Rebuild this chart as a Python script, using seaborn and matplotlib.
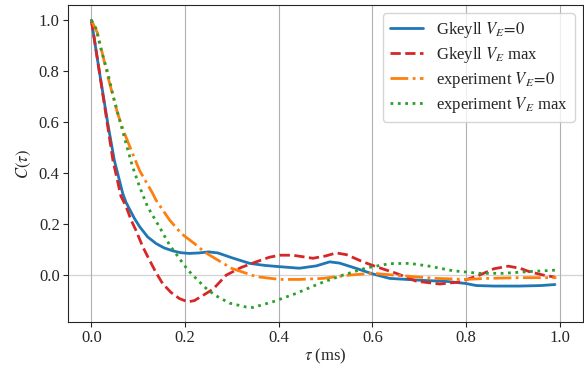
import numpy as np
import pandas as pd
import matplotlib
matplotlib.use("Agg")
import matplotlib.pyplot as plt
import seaborn as sns

# --- data ---
t_gk0 = [0.0, 0.016, 0.035, 0.049, 0.067, 0.074, 0.092, 0.103, 0.12, 0.138, 0.155, 0.174,
         0.19, 0.209, 0.23, 0.25, 0.27, 0.3, 0.338, 0.37, 0.402, 0.444, 0.48, 0.509, 0.53,
         0.566, 0.6, 0.637, 0.7, 0.76, 0.8, 0.822, 0.86, 0.915, 0.96, 0.99]
c_gk0 = [1.0, 0.81, 0.595, 0.45, 0.32, 0.285, 0.222, 0.19, 0.15, 0.124, 0.107, 0.095,
         0.088, 0.085, 0.087, 0.091, 0.087, 0.068, 0.046, 0.038, 0.033, 0.027, 0.036, 0.052, 0.047,
         0.026, 0.005, -0.013, -0.02, -0.025, -0.033, -0.041, -0.043, -0.043, -0.041, -0.037]

t_gkm = [0.0, 0.016, 0.031, 0.046, 0.063, 0.074, 0.085, 0.095, 0.11, 0.124, 0.138, 0.152,
         0.17, 0.188, 0.206, 0.22, 0.238, 0.26, 0.288, 0.32, 0.352, 0.38, 0.402, 0.43, 0.473,
         0.5, 0.523, 0.545, 0.58, 0.608, 0.651, 0.694, 0.744, 0.786, 0.829, 0.86, 0.89, 0.915,
         0.936, 0.965, 0.99]
c_gkm = [1.0, 0.81, 0.63, 0.45, 0.31, 0.27, 0.215, 0.176, 0.11, 0.059, 0.01, -0.033,
         -0.068, -0.092, -0.105, -0.1, -0.08, -0.055, 0.0, 0.03, 0.052, 0.07, 0.078, 0.078, 0.066,
         0.075, 0.087, 0.08, 0.052, 0.033, 0.007, -0.024, -0.035, -0.027, 0.0, 0.025, 0.035, 0.027,
         0.013, 0.0, -0.008]

t_ex0 = [0.0, 0.013, 0.035, 0.056, 0.07, 0.085, 0.103, 0.131, 0.138, 0.167, 0.192, 0.224,
         0.241, 0.26, 0.3, 0.352, 0.402, 0.444, 0.494, 0.551, 0.6, 0.665, 0.737, 0.8, 0.843,
         0.915, 0.993]
c_ex0 = [1.0, 0.95, 0.78, 0.634, 0.56, 0.49, 0.41, 0.32, 0.294, 0.216, 0.163, 0.118,
         0.091, 0.07, 0.026, -0.006, -0.017, -0.017, -0.013, 0.0, 0.007, -0.003, -0.013, -0.017,
         -0.013, -0.01, -0.01]

t_exm = [0.0, 0.01, 0.02, 0.034, 0.047, 0.06, 0.074, 0.088, 0.103, 0.12, 0.145, 0.167,
         0.188, 0.206, 0.227, 0.249, 0.27, 0.295, 0.33, 0.345, 0.387, 0.437, 0.487, 0.537,
         0.587, 0.637, 0.68, 0.722, 0.772, 0.829, 0.879, 0.929, 0.996]
c_exm = [1.0, 0.967, 0.89, 0.80, 0.70, 0.61, 0.516, 0.425, 0.346, 0.268, 0.19, 0.118,
         0.065, 0.02, -0.02, -0.059, -0.085, -0.11, -0.125, -0.127, -0.105, -0.072, -0.033, 0.0,
         0.028, 0.045, 0.046, 0.035, 0.017, 0.007, 0.007, 0.013, 0.02]

labels = [r"Gkeyll $V_E\!=\!0$", r"Gkeyll $V_E$ max",
          r"experiment $V_E\!=\!0$", r"experiment $V_E$ max"]
xticks = [0.0, 0.2, 0.4, 0.6, 0.8, 1.0]
yticks = [0.0, 0.2, 0.4, 0.6, 0.8, 1.0]

sns.set_style("ticks")
plt.rcParams["font.family"] = ["Liberation Serif", "DejaVu Serif"]
plt.rcParams["mathtext.fontset"] = "stix"
plt.rcParams["font.size"] = 12

series = [(t_gk0, c_gk0), (t_gkm, c_gkm), (t_ex0, c_ex0), (t_exm, c_exm)]
frames = []
for (t, c), lab in zip(series, labels):
    frames.append(pd.DataFrame({"tau": t, "C": c, "series": lab}))
df = pd.concat(frames, ignore_index=True)

colors = ["#1f77b4", "#d62728", "#ff7f0e", "#2ca02c"]
styles = ["-", (0, (3.7, 1.6)), (0, (6.4, 1.6, 1.0, 1.6)), (0, (1.0, 1.65))]

fig = plt.figure(figsize=(5.84, 3.68), dpi=100)
ax = fig.add_axes([0.1164, 0.125, 0.882, 0.861])

ax.grid(axis="x", color="#b0b0b0", lw=0.8)
ax.axhline(0, color="#d3d3d3", lw=0.9, zorder=0.5)
ax.set_axisbelow(True)

for lab, col, ls in zip(labels, colors, styles):
    sub = df[df["series"] == lab]
    sns.lineplot(data=sub, x="tau", y="C", ax=ax, color=col, lw=2, label=lab,
                 sort=False, estimator=None)
    ax.lines[-1].set_linestyle(ls)

ax.set_xticks(xticks)
ax.set_yticks(yticks)
ax.set_xlim(-0.05, 1.05)
ax.set_ylim(-0.184, 1.059)
ax.set_xlabel(r"$\tau$ (ms)", labelpad=0)
ax.set_ylabel(r"$C(\tau)$", labelpad=4)
ax.tick_params(labelsize=12, length=3.5, width=0.8, pad=2.5)

leg = ax.legend(loc="upper right", fontsize=12, frameon=True, fancybox=True,
                labelspacing=0.3, borderpad=0.4, handlelength=2.0)
leg.get_frame().set_edgecolor("#cccccc")
for h, ls in zip(leg.get_lines(), styles):
    h.set_linestyle(ls)

fig.savefig("out.png", dpi=100)
